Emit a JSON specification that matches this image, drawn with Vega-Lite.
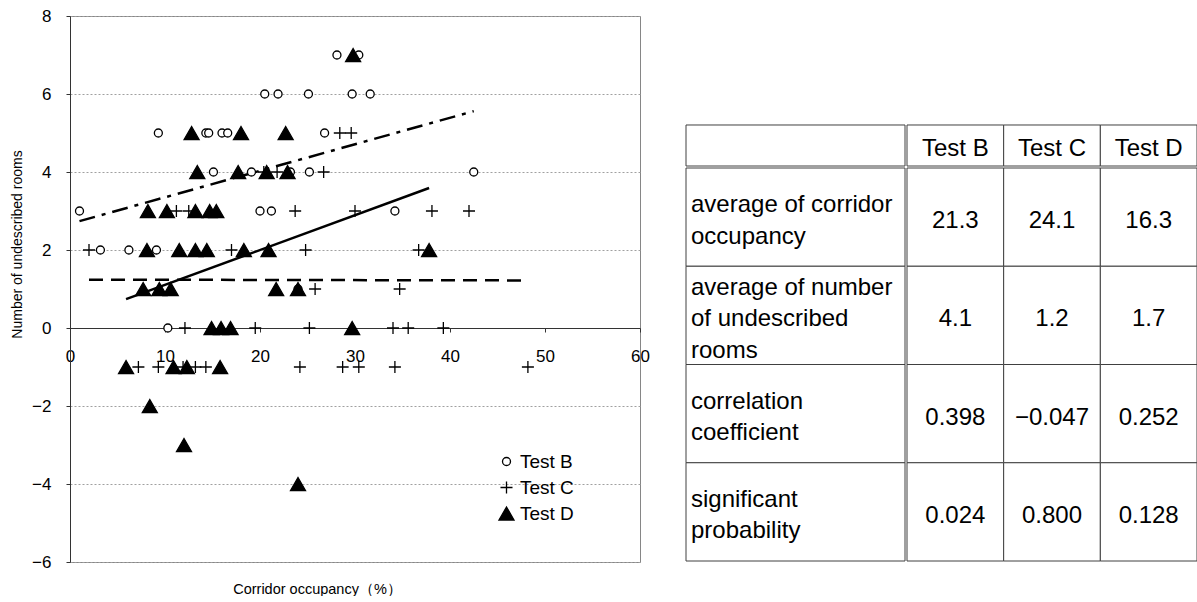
{
  "$schema": "https://vega.github.io/schema/vega-lite/v6.json",
  "background": "white",
  "padding": {"left": 9, "top": 6, "right": 0, "bottom": 0},
  "config": {
    "font": "Liberation Sans",
    "view": {"stroke": null},
    "axis": {"labelColor": "black", "titleColor": "black", "titleFontWeight": "normal"},
    "legend": {
      "orient": "none", "legendX": 427, "legendY": 436, "padding": 0, "title": null,
      "labelFontSize": 19, "labelColor": "black", "labelOffset": 4,
      "symbolStrokeWidth": 1.3, "symbolOpacity": 1, "rowPadding": 6
    }
  },
  "datasets": {
    "points": [
      {"test": "Test B", "x": 28.1, "y": 7}, {"test": "Test B", "x": 30.4, "y": 7},
      {"test": "Test B", "x": 20.5, "y": 6}, {"test": "Test B", "x": 21.9, "y": 6}, {"test": "Test B", "x": 25.1, "y": 6}, {"test": "Test B", "x": 29.7, "y": 6}, {"test": "Test B", "x": 31.6, "y": 6},
      {"test": "Test B", "x": 9.3, "y": 5}, {"test": "Test B", "x": 14.3, "y": 5}, {"test": "Test B", "x": 14.6, "y": 5}, {"test": "Test B", "x": 16.0, "y": 5}, {"test": "Test B", "x": 16.6, "y": 5}, {"test": "Test B", "x": 26.8, "y": 5},
      {"test": "Test B", "x": 15.1, "y": 4}, {"test": "Test B", "x": 19.1, "y": 4}, {"test": "Test B", "x": 23.2, "y": 4}, {"test": "Test B", "x": 25.2, "y": 4}, {"test": "Test B", "x": 42.5, "y": 4},
      {"test": "Test B", "x": 1.0, "y": 3}, {"test": "Test B", "x": 20.0, "y": 3}, {"test": "Test B", "x": 21.2, "y": 3}, {"test": "Test B", "x": 34.2, "y": 3},
      {"test": "Test B", "x": 3.2, "y": 2}, {"test": "Test B", "x": 6.2, "y": 2}, {"test": "Test B", "x": 9.1, "y": 2},
      {"test": "Test B", "x": 24.0, "y": 1},
      {"test": "Test B", "x": 10.3, "y": 0},
      {"test": "Test C", "x": 28.4, "y": 5}, {"test": "Test C", "x": 29.6, "y": 5},
      {"test": "Test C", "x": 20.4, "y": 4}, {"test": "Test C", "x": 21.8, "y": 4}, {"test": "Test C", "x": 26.7, "y": 4},
      {"test": "Test C", "x": 11.2, "y": 3}, {"test": "Test C", "x": 12.5, "y": 3}, {"test": "Test C", "x": 23.7, "y": 3}, {"test": "Test C", "x": 30.0, "y": 3}, {"test": "Test C", "x": 38.1, "y": 3}, {"test": "Test C", "x": 42.0, "y": 3},
      {"test": "Test C", "x": 2.0, "y": 2}, {"test": "Test C", "x": 17.0, "y": 2}, {"test": "Test C", "x": 24.8, "y": 2}, {"test": "Test C", "x": 36.7, "y": 2},
      {"test": "Test C", "x": 25.8, "y": 1}, {"test": "Test C", "x": 34.7, "y": 1},
      {"test": "Test C", "x": 12.1, "y": 0}, {"test": "Test C", "x": 19.5, "y": 0}, {"test": "Test C", "x": 25.2, "y": 0}, {"test": "Test C", "x": 34.0, "y": 0}, {"test": "Test C", "x": 35.6, "y": 0}, {"test": "Test C", "x": 39.3, "y": 0},
      {"test": "Test C", "x": 7.2, "y": -1}, {"test": "Test C", "x": 9.3, "y": -1}, {"test": "Test C", "x": 11.9, "y": -1}, {"test": "Test C", "x": 13.2, "y": -1}, {"test": "Test C", "x": 14.3, "y": -1}, {"test": "Test C", "x": 24.2, "y": -1}, {"test": "Test C", "x": 28.7, "y": -1}, {"test": "Test C", "x": 30.4, "y": -1}, {"test": "Test C", "x": 34.2, "y": -1}, {"test": "Test C", "x": 48.2, "y": -1},
      {"test": "Test D", "x": 29.8, "y": 7},
      {"test": "Test D", "x": 12.8, "y": 5}, {"test": "Test D", "x": 18.0, "y": 5}, {"test": "Test D", "x": 22.7, "y": 5},
      {"test": "Test D", "x": 13.4, "y": 4}, {"test": "Test D", "x": 17.7, "y": 4}, {"test": "Test D", "x": 20.7, "y": 4}, {"test": "Test D", "x": 22.9, "y": 4},
      {"test": "Test D", "x": 8.2, "y": 3}, {"test": "Test D", "x": 10.2, "y": 3}, {"test": "Test D", "x": 13.2, "y": 3}, {"test": "Test D", "x": 14.7, "y": 3}, {"test": "Test D", "x": 15.4, "y": 3},
      {"test": "Test D", "x": 8.1, "y": 2}, {"test": "Test D", "x": 11.5, "y": 2}, {"test": "Test D", "x": 13.2, "y": 2}, {"test": "Test D", "x": 14.4, "y": 2}, {"test": "Test D", "x": 18.3, "y": 2}, {"test": "Test D", "x": 20.9, "y": 2}, {"test": "Test D", "x": 37.8, "y": 2},
      {"test": "Test D", "x": 7.7, "y": 1}, {"test": "Test D", "x": 9.4, "y": 1}, {"test": "Test D", "x": 10.6, "y": 1}, {"test": "Test D", "x": 21.7, "y": 1}, {"test": "Test D", "x": 24.0, "y": 1},
      {"test": "Test D", "x": 14.9, "y": 0}, {"test": "Test D", "x": 15.9, "y": 0}, {"test": "Test D", "x": 16.9, "y": 0}, {"test": "Test D", "x": 29.7, "y": 0},
      {"test": "Test D", "x": 5.9, "y": -1}, {"test": "Test D", "x": 10.9, "y": -1}, {"test": "Test D", "x": 12.3, "y": -1}, {"test": "Test D", "x": 15.8, "y": -1},
      {"test": "Test D", "x": 8.4, "y": -2}, {"test": "Test D", "x": 12.0, "y": -3}, {"test": "Test D", "x": 24.0, "y": -4}
    ],
    "fits": [
      {"test": "Test B", "x": 1.0, "y": 2.74}, {"test": "Test B", "x": 42.5, "y": 5.56},
      {"test": "Test C", "x": 2.0, "y": 1.24}, {"test": "Test C", "x": 48.2, "y": 1.22},
      {"test": "Test D", "x": 5.9, "y": 0.74}, {"test": "Test D", "x": 37.8, "y": 3.59}
    ],
    "tests": [{"test": "Test B"}, {"test": "Test C"}, {"test": "Test D"}],
    "statNames": [
      {"stat": "occ", "label": "average of corridor\noccupancy"},
      {"stat": "rooms", "label": "average of number\nof undescribed\nrooms"},
      {"stat": "corr", "label": "correlation\ncoefficient"},
      {"stat": "prob", "label": "significant\nprobability"}
    ],
    "stats": [
      {"stat": "occ", "test": "Test B", "value": "21.3"}, {"stat": "occ", "test": "Test C", "value": "24.1"}, {"stat": "occ", "test": "Test D", "value": "16.3"},
      {"stat": "rooms", "test": "Test B", "value": "4.1"}, {"stat": "rooms", "test": "Test C", "value": "1.2"}, {"stat": "rooms", "test": "Test D", "value": "1.7"},
      {"stat": "corr", "test": "Test B", "value": "0.398"}, {"stat": "corr", "test": "Test C", "value": "−0.047"}, {"stat": "corr", "test": "Test D", "value": "0.252"},
      {"stat": "prob", "test": "Test B", "value": "0.024"}, {"stat": "prob", "test": "Test C", "value": "0.800"}, {"stat": "prob", "test": "Test D", "value": "0.128"}
    ]
  },
  "spacing": 35,
  "resolve": {"legend": {"shape": "independent", "fill": "independent", "stroke": "independent", "size": "independent"}},
  "hconcat": [
    {
      "width": 570,
      "height": 546,
      "view": {"stroke": "#868686", "strokeWidth": 1},
      "encoding": {
        "x": {
          "field": "x", "type": "quantitative",
          "scale": {"domain": [0, 60], "nice": false, "zero": false},
          "axis": {
            "values": [0, 10, 20, 30, 40, 50, 60], "grid": false, "offset": -234,
            "domainColor": "#333333", "tickColor": "#333333", "tickSize": 4,
            "labelFontSize": 17, "labelPadding": 16, "labelFlush": false,
            "title": "Corridor occupancy（%）", "titleFontSize": 14.5,
            "titleX": 247, "titleY": 261, "titleBaseline": "middle", "titleAlign": "center"
          }
        },
        "y": {
          "field": "y", "type": "quantitative",
          "scale": {"domain": [-6, 8], "nice": false, "zero": false},
          "axis": {
            "values": [-6, -4, -2, 0, 2, 4, 6, 8], "grid": true,
            "gridColor": "#a0a0a0", "gridDash": [2, 2], "gridWidth": 1,
            "domainColor": "#333333", "tickColor": "#333333", "tickSize": 4,
            "labelFontSize": 17, "labelPadding": 15,
            "title": "Number of undescribed rooms", "titleFontSize": 14,
            "titleX": -53, "titleY": 228, "titleBaseline": "middle", "titleAlign": "center"
          }
        }
      },
      "layer": [
        {
          "data": {"name": "fits"},
          "transform": [{"filter": "datum.test === 'Test B'"}],
          "mark": {"type": "line", "stroke": "black", "strokeWidth": 2.5, "strokeDash": [16, 7, 4, 7]}
        },
        {
          "data": {"name": "fits"},
          "transform": [{"filter": "datum.test === 'Test C'"}],
          "mark": {"type": "line", "stroke": "black", "strokeWidth": 2.5, "strokeDash": [14, 8]}
        },
        {
          "data": {"name": "fits"},
          "transform": [{"filter": "datum.test === 'Test D'"}],
          "mark": {"type": "line", "stroke": "black", "strokeWidth": 2.5}
        },
        {
          "data": {"name": "points"},
          "mark": {"type": "point", "strokeWidth": 1.3, "opacity": 1},
          "encoding": {
            "shape": {
              "field": "test", "type": "nominal", "title": null,
              "scale": {"domain": ["Test B", "Test C", "Test D"], "range": ["circle", "M-1,0H1M0,-1V1", "triangle-up"]}
            },
            "fill": {
              "field": "test", "type": "nominal", "title": null,
              "scale": {"domain": ["Test B", "Test C", "Test D"], "range": ["white", "black", "black"]}
            },
            "stroke": {
              "field": "test", "type": "nominal", "title": null,
              "scale": {"domain": ["Test B", "Test C", "Test D"], "range": ["black", "black", "black"]}
            },
            "size": {
              "field": "test", "type": "nominal", "title": null,
              "scale": {"domain": ["Test B", "Test C", "Test D"], "range": [64, 225, 110]}
            }
          }
        }
      ]
    },
    {
      "spacing": 0,
      "vconcat": [
        {
          "spacing": 0,
          "hconcat": [
            {
              "width": 219, "height": 150,
              "data": {"values": [{"cell": "corner"}]},
              "mark": {"type": "rect", "fill": "white", "stroke": "#404040", "strokeWidth": 1},
              "encoding": {
                "x": {"datum": "stat", "type": "nominal", "axis": null, "scale": {"paddingInner": 0, "paddingOuter": 0}},
                "y": {"datum": "header", "type": "nominal", "axis": null, "scale": {"paddingInner": 0.2477, "paddingOuter": 1, "align": 1}}
              }
            },
            {
              "width": 290, "height": 150,
              "data": {"name": "tests"},
              "encoding": {
                "x": {"field": "test", "type": "nominal", "axis": null, "sort": null, "scale": {"paddingInner": 0, "paddingOuter": 0}},
                "y": {"datum": "header", "type": "nominal", "axis": null, "scale": {"paddingInner": 0.2477, "paddingOuter": 1, "align": 1}}
              },
              "layer": [
                {"mark": {"type": "rect", "fill": "white", "stroke": "#404040", "strokeWidth": 1}},
                {"mark": {"type": "text", "fontSize": 24, "color": "black", "align": "center", "baseline": "middle", "dy": 4}, "encoding": {"text": {"field": "test"}}}
              ]
            }
          ]
        },
        {
          "spacing": 0,
          "hconcat": [
            {
              "width": 219, "height": 393,
              "data": {"name": "statNames"},
              "encoding": {
                "x": {"datum": "stat", "type": "nominal", "axis": null, "bandPosition": 0, "scale": {"paddingInner": 0, "paddingOuter": 0}},
                "y": {"field": "stat", "type": "nominal", "axis": null, "scale": {"domain": ["occ", "rooms", "corr", "prob"], "paddingInner": 0, "paddingOuter": 0}}
              },
              "layer": [
                {
                  "mark": {"type": "rect", "fill": "white", "stroke": "#404040", "strokeWidth": 1},
                  "encoding": {"x": {"datum": "stat", "type": "nominal", "axis": null}}
                },
                {
                  "transform": [{"filter": "datum.stat !== 'rooms'"}],
                  "mark": {"type": "text", "fontSize": 24, "color": "black", "align": "left", "baseline": "middle", "dx": 5, "dy": -12, "lineBreak": "\n", "lineHeight": 31.5},
                  "encoding": {"text": {"field": "label"}}
                },
                {
                  "transform": [{"filter": "datum.stat === 'rooms'"}],
                  "mark": {"type": "text", "fontSize": 24, "color": "black", "align": "left", "baseline": "middle", "dx": 5, "dy": -27.5, "lineBreak": "\n", "lineHeight": 31.5},
                  "encoding": {"text": {"field": "label"}}
                }
              ]
            },
            {
              "width": 290, "height": 393,
              "data": {"name": "stats"},
              "encoding": {
                "x": {"field": "test", "type": "nominal", "axis": null, "scale": {"domain": ["Test B", "Test C", "Test D"], "paddingInner": 0, "paddingOuter": 0}},
                "y": {"field": "stat", "type": "nominal", "axis": null, "scale": {"domain": ["occ", "rooms", "corr", "prob"], "paddingInner": 0, "paddingOuter": 0}}
              },
              "layer": [
                {"mark": {"type": "rect", "fill": "white", "stroke": "#404040", "strokeWidth": 1}},
                {"mark": {"type": "text", "fontSize": 24, "color": "black", "align": "center", "baseline": "middle", "dy": 4}, "encoding": {"text": {"field": "value"}}}
              ]
            }
          ]
        }
      ]
    }
  ]
}
